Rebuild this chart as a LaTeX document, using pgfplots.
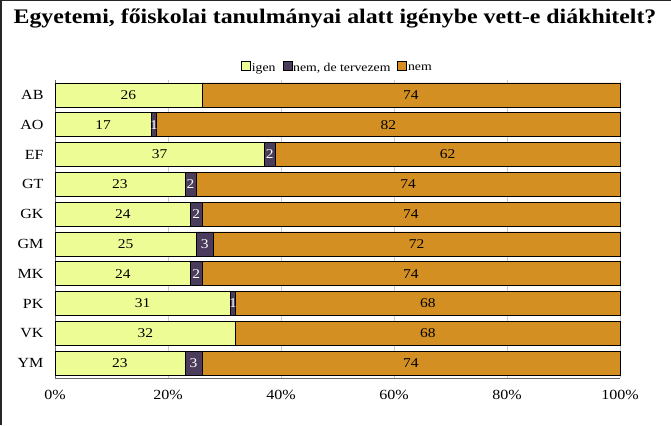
\documentclass[border=0pt]{standalone}
\usepackage{pgfplots}
\pgfplotsset{compat=1.18}
\usepackage{fontspec}
\setmainfont[FakeStretch=1.15]{Liberation Serif}
\definecolor{cyel}{RGB}{238,252,150}
\definecolor{cdark}{RGB}{74,60,90}
\definecolor{corg}{RGB}{211,143,34}
\begin{document}
\begin{tikzpicture}[x=1bp,y=1bp]
\useasboundingbox (0,0) rectangle (671,425);
\fill[white] (0,0) rectangle (671,425);
\draw[line width=1.5bp,black!85] (0.75,0) -- (0.75,424.25) -- (671,424.25);
\node[font=\fontsize{20.8}{24}\selectfont\bfseries] at (335,407) {Egyetemi, főiskolai tanulmányai alatt igénybe vett-e diákhitelt?};
\begin{axis}[
  at={(55bp,47bp)}, anchor=south west,
  scale only axis, width=565bp, height=298bp,
  xbar stacked, bar width=24bp,
  xmin=0, xmax=100, ymin=-0.5, ymax=9.5,
  y dir=reverse,
  ytick={0,...,9},
  yticklabels={AB,AO,EF,GT,GK,GM,MK,PK,VK,YM},
  xtick={0,20,40,60,80,100},
  xticklabels={0\%,20\%,40\%,60\%,80\%,100\%},
  xmajorgrids, grid style={black!20, line width=0.4pt},
  axis x line*=bottom, axis y line*=left,
  axis line style={black!60, line width=0.8bp},
  major tick length=0pt,
  tick label style={font=\fontsize{14}{16}\selectfont},
  yticklabel style={xshift=-8bp},
  xticklabel style={yshift=-9bp},
  legend style={at={(0.5,1.01)}, anchor=south, draw=none, fill=none,
    legend columns=3,
    nodes={font=\fontsize{12}{14}\selectfont},
    /tikz/every even column/.append style={column sep=5bp},
    /tikz/every odd column/.append style={column sep=-1bp}},
  legend image code/.code={\draw[#1, draw=black, line width=0.6bp] (0bp,-2bp) rectangle (9bp,7bp);},
  /pgf/number format/assume math mode=true,
  point meta=explicit,
  nodes near coords={\pgfmathfloatifflags{\pgfplotspointmeta}{0}{}{\pgfmathprintnumber{\pgfplotspointmeta}}},
  every node near coord/.append style={font=\fontsize{13.5}{15}\selectfont, text=black},
  clip=false,
]
\addplot+[fill=cyel, draw=black, line width=0.8bp] coordinates {
(26,0)[26] (17,1)[17] (37,2)[37] (23,3)[23] (24,4)[24]
(25,5)[25] (24,6)[24] (31,7)[31] (32,8)[32] (23,9)[23]};
\addplot+[fill=cdark, draw=black, line width=0.8bp, every node near coord/.append style={text=white}] coordinates {
(0,0)[0] (1,1)[1] (2,2)[2] (2,3)[2] (2,4)[2]
(3,5)[3] (2,6)[2] (1,7)[1] (0,8)[0] (3,9)[3]};
\addplot+[fill=corg, draw=black, line width=0.8bp] coordinates {
(74,0)[74] (82,1)[82] (61,2)[62] (75,3)[74] (74,4)[74]
(72,5)[72] (74,6)[74] (68,7)[68] (68,8)[68] (74,9)[74]};
\legend{igen,{nem, de tervezem},nem}
\end{axis}
\end{tikzpicture}
\end{document}
